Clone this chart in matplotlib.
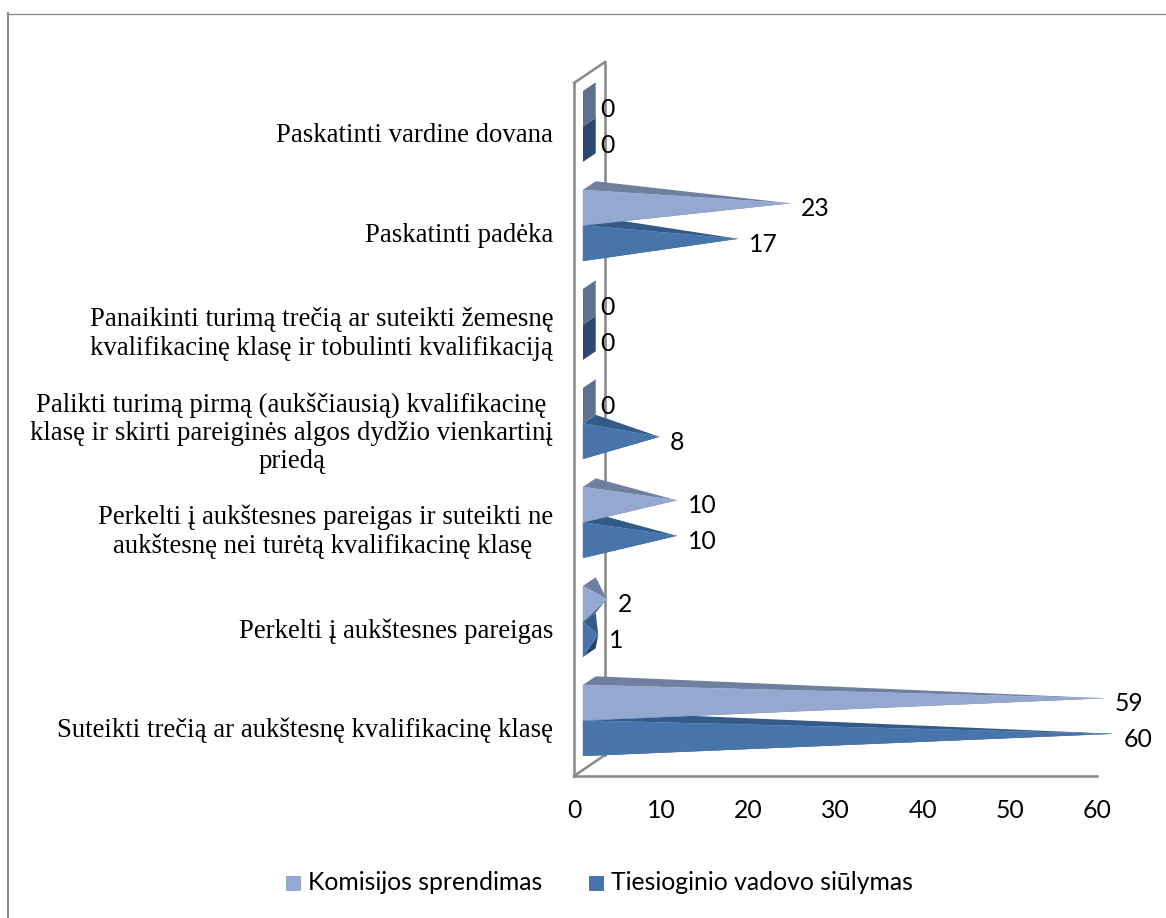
#!/usr/bin/env python3
import matplotlib
matplotlib.use("Agg")

import matplotlib.pyplot as plt
from matplotlib.patches import Polygon

categories = [
    "Suteikti trečią ar aukštesnę kvalifikacinę klasę",
    "Perkelti į aukštesnes pareigas",
    "Perkelti į aukštesnes pareigas ir suteikti ne\naukštesnę nei turėtą kvalifikacinę klasę ",
    "Palikti turimą pirmą (aukščiausią) kvalifikacinę\nklasę ir skirti pareiginės algos dydžio vienkartinį\npriedą",
    "Panaikinti turimą trečią ar suteikti žemesnę\nkvalifikacinę klasę ir tobulinti kvalifikaciją",
    "Paskatinti padėka",
    "Paskatinti vardine dovana",
]
vadovo = [60, 1, 10, 8, 0, 17, 0]
komisijos = [59, 2, 10, 0, 0, 23, 0]
x_ticks = [0, 10, 20, 30, 40, 50, 60]

W, H = 1166, 918
PX_X = 523 / 60.0   # pixels per unit of value
PX_Y = 99.0         # pixels per category
DEPTH_X = 31 / PX_X
DEPTH_Y = 21 / PX_Y
BAR_H = 35.5 / PX_Y

fig = plt.figure(figsize=(W / 100, H / 100), dpi=100)
ax = fig.add_axes([574 / W, 1 - 776 / H, 523 / W, 693 / H])
ax.set_xlim(0, 60)
ax.set_ylim(0, 7)
ax.axis("off")

WALL = "#8c8c8c"
LATO = "Lato"
SERIF = "Liberation Serif"
FS = 17.8


def proj(v, y, d):
    # value and category position, pushed back by d (0 front, 1 back wall)
    return (v + d * DEPTH_X, y + d * DEPTH_Y)


def draw_walls():
    pts = [
        ([0, 0], [0, 7]),
        ([0, 60], [0, 0]),
        ([0, DEPTH_X], [0, DEPTH_Y]),
        ([0, DEPTH_X], [7, 7 + DEPTH_Y]),
        ([DEPTH_X, DEPTH_X], [DEPTH_Y, 7 + DEPTH_Y]),
    ]
    for xs, ys in pts:
        ax.plot(xs, ys, color=WALL, lw=1.9, clip_on=False, zorder=1,
                solid_capstyle="projecting")


def draw_pyramid(v, y0, front, top, under, flat, z):
    # square based pyramid lying on its side, y0 is the lower edge of the base
    y1 = y0 + BAR_H
    fb, ft = proj(0, y0, 0.29), proj(0, y1, 0.29)
    bb, bt = proj(0, y0, 0.70), proj(0, y1, 0.70)
    tip = proj(v, y0 + BAR_H / 2, 0.5)

    if v == 0:
        ax.add_patch(Polygon([fb, ft, bt, bb], closed=True, fc=flat, ec="none",
                             zorder=z, clip_on=False))
    else:
        ax.add_patch(Polygon([fb, bb, tip], closed=True, fc=under, ec="none",
                             zorder=z, clip_on=False))
        ax.add_patch(Polygon([ft, bt, tip], closed=True, fc=top, ec="none",
                             zorder=z + 0.1, clip_on=False))
        ax.add_patch(Polygon([fb, ft, tip], closed=True, fc=front, ec=front, lw=0.3,
                             zorder=z + 0.2, clip_on=False))

    ax.annotate(str(v), xy=tip, xytext=(11 * 0.72, -5.5 * 0.72),
                textcoords="offset points", ha="left", va="center",
                family=LATO, fontsize=FS, color="black", zorder=20,
                annotation_clip=False)


draw_walls()

for i in range(len(categories)):
    y = i + 0.5
    # lower series first so the upper one covers its top face
    draw_pyramid(vadovo[i], y - BAR_H, "#4775ab", "#335a88", "#22426a", "#2c4870", 3 + i)
    draw_pyramid(komisijos[i], y, "#95a9d0", "#6f7fa0", "#55688a", "#5f6f8f", 3.5 + i)

    ax.text(-21 / PX_X, y - 3.5 / PX_Y, categories[i], ha="right", va="center",
            multialignment="center", family=SERIF, fontsize=19.3,
            linespacing=1.17, color="black", clip_on=False)

for t in x_ticks:
    ax.text(t, -35 / PX_Y, str(t), ha="center", va="center", family=LATO,
            fontsize=FS, color="black", clip_on=False)

# legend laid out by hand along the bottom of the frame
for px, name, col in [(286, "Komisijos sprendimas", "#95a9d0"),
                      (589, "Tiesioginio vadovo siūlymas", "#4775ab")]:
    fig.patches.append(plt.Rectangle((px / W, 1 - 891 / H), 15 / W, 15 / H,
                                     transform=fig.transFigure, fc=col, ec="none"))
    fig.text((px + 22) / W, 1 - 883 / H, name, ha="left", va="center",
             family=LATO, fontsize=FS, color="black")

# chart frame, the left edge is heavier than the top
fig.add_artist(plt.Line2D([8 / W, 8 / W], [0, 1 - 13 / H], color="#8c8c8c", lw=1.5))
fig.add_artist(plt.Line2D([7 / W, 1], [1 - 13.5 / H, 1 - 13.5 / H], color="#8c8c8c", lw=1.0))

fig.savefig("out.png", dpi=100)
